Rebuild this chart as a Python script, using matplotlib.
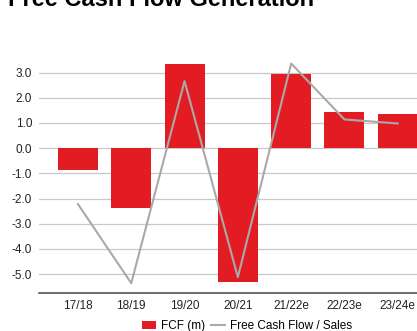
import numpy as np
import matplotlib.pyplot as plt

plt.rcParams['font.family'] = ['Liberation Sans', 'DejaVu Sans']

# Data
years = ['17/18', '18/19', '19/20', '20/21', '21/22e', '22/23e', '23/24e']
fcf = [-0.85, -2.38, 3.35, -5.32, 2.96, 1.42, 1.34]
fcf_sales = [-2.22, -5.36, 2.66, -5.12, 3.36, 1.14, 0.98]
yticks = [3, 2, 1, 0, -1, -2, -3, -4, -5]

fig = plt.figure(figsize=(4.17, 3.31), dpi=100)
ax = fig.add_axes([39 / 417, 38 / 331, 1 - 39 / 417, 233 / 331])

x = np.arange(len(years))
bars = ax.bar(x, fcf, width=0.75, color='#e31c23', label='FCF (m)', zorder=2)
line, = ax.plot(x, fcf_sales, color='#a9a9a9', linewidth=1.5,
                label='Free Cash Flow / Sales', zorder=3)

ax.set_xlim(-0.73, 6.36)
ax.set_ylim(-5.75, 3.5)
ax.set_yticks(yticks)
ax.set_yticklabels([f'{v:.1f}' for v in yticks])
ax.set_xticks(x)
ax.set_xticklabels(years)
ax.tick_params(axis='both', length=0, labelsize=8.5, colors='#222222')
ax.tick_params(axis='y', pad=5)
ax.tick_params(axis='x', pad=5)
ax.grid(axis='y', color='#c8c8c8', linewidth=0.9, zorder=0)
ax.set_axisbelow(True)
for s in ['top', 'right', 'left']:
    ax.spines[s].set_visible(False)
ax.spines['bottom'].set_color('#555555')
ax.spines['bottom'].set_linewidth(1.2)

fig.text(8 / 417, 1 - 6 / 331, 'Free Cash Flow Generation', fontsize=17,
         fontweight='bold', va='baseline', ha='left')

fig.legend(handles=[bars, line], loc='center', bbox_to_anchor=(247 / 417, 1 - 326 / 331),
           ncol=2, frameon=False, fontsize=8.5, handlelength=1.2, handleheight=0.7,
           columnspacing=0.5, handletextpad=0.4)

plt.savefig('out.png', dpi=100)
